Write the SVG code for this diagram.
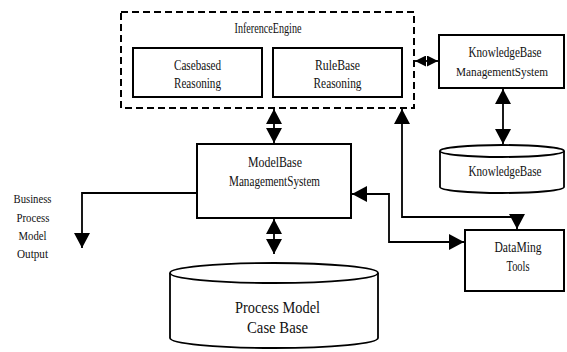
<svg xmlns="http://www.w3.org/2000/svg" width="567" height="352" viewBox="0 0 567 352" font-family="'Liberation Serif', 'Times New Roman', serif">
  <defs>
    <style>
      .box { fill: #fff; stroke: #000; stroke-width: 2; }
      .dash { fill: none; stroke: #000; stroke-width: 2; stroke-dasharray: 7 4; }
      .cyl { fill: #fff; stroke: #000; stroke-width: 1.8; }
      .ln { fill: none; stroke: #000; stroke-width: 1.8; }
      text { font-family: 'Liberation Serif', 'Times New Roman', serif; fill: #111; text-anchor: middle; }
      .t { font-size: 14px; }
      .tn { font-size: 12px; }
      .tl { font-size: 17px; }
      .ts { font-size: 13px; }
    </style>
    <marker id="head" viewBox="0 0 15 16" refX="15" refY="8" markerWidth="15" markerHeight="16" markerUnits="userSpaceOnUse" orient="auto-start-reverse">
      <path d="M0,0 L15,8 L0,16 z" fill="#000"/>
    </marker>
    <marker id="head-sm" viewBox="0 0 11 11" refX="11" refY="5.5" markerWidth="11" markerHeight="11" markerUnits="userSpaceOnUse" orient="auto-start-reverse">
      <path d="M0,0 L11,5.5 L0,11 z" fill="#000"/>
    </marker>
  </defs>

  <!-- connectors -->
  <g id="connectors">
    <line class="ln" x1="274" y1="109" x2="274" y2="143" marker-start="url(#head)" marker-end="url(#head)"/>
    <line class="ln" x1="274" y1="219" x2="274" y2="254" marker-start="url(#head)" marker-end="url(#head)"/>
    <line class="ln" x1="415" y1="61" x2="438" y2="61" marker-start="url(#head-sm)" marker-end="url(#head-sm)"/>
    <line class="ln" x1="503" y1="89" x2="503" y2="144" marker-start="url(#head)" marker-end="url(#head)"/>
    <polyline class="ln" points="197,193 82,193 82,248" marker-end="url(#head)"/>
    <polyline class="ln" points="352,194 389,194 389,242 464,242" marker-start="url(#head)" marker-end="url(#head)"/>
    <polyline class="ln" points="402,109 402,217 517,217 517,229" marker-start="url(#head)" marker-end="url(#head)"/>
  </g>

  <!-- inference engine -->
  <g id="inference-engine">
    <rect class="dash" x="121" y="12" width="293" height="96"/>
    <text class="t" x="268" y="33" textLength="67" lengthAdjust="spacingAndGlyphs">InferenceEngine</text>
  </g>
  <g id="casebased-reasoning">
    <rect class="box" x="133" y="48" width="129" height="49"/>
    <text class="t" x="197.5" y="70" textLength="47" lengthAdjust="spacingAndGlyphs">Casebased</text>
    <text class="t" x="197.5" y="88" textLength="47" lengthAdjust="spacingAndGlyphs">Reasoning</text>
  </g>
  <g id="rulebase-reasoning">
    <rect class="box" x="273" y="48" width="129" height="49"/>
    <text class="t" x="337.5" y="70" textLength="45" lengthAdjust="spacingAndGlyphs">RuleBase</text>
    <text class="t" x="337.5" y="88" textLength="48" lengthAdjust="spacingAndGlyphs">Reasoning</text>
  </g>

  <!-- knowledge base management system -->
  <g id="kb-management">
    <rect class="box" x="439" y="35" width="125" height="53"/>
    <text class="t" x="505" y="57" textLength="73" lengthAdjust="spacingAndGlyphs">KnowledgeBase</text>
    <text class="tn" x="502" y="76" textLength="92" lengthAdjust="spacingAndGlyphs">ManagementSystem</text>
  </g>

  <!-- knowledge base store -->
  <g id="knowledge-base">
    <path class="cyl" d="M440,151 L440,187 A62,6 0 0 0 564,187 L564,151"/>
    <ellipse class="cyl" cx="502" cy="151" rx="62" ry="6"/>
    <text class="t" x="505" y="176" textLength="73" lengthAdjust="spacingAndGlyphs">KnowledgeBase</text>
  </g>

  <!-- model base management system -->
  <g id="mb-management">
    <rect class="box" x="197" y="144" width="154" height="74"/>
    <text class="t" x="275" y="167" textLength="54" lengthAdjust="spacingAndGlyphs">ModelBase</text>
    <text class="t" x="274.5" y="186" textLength="91" lengthAdjust="spacingAndGlyphs">ManagementSystem</text>
  </g>

  <!-- data mining tools -->
  <g id="data-mining">
    <rect class="box" x="465" y="230" width="99" height="61"/>
    <text class="t" x="518" y="252" textLength="47" lengthAdjust="spacingAndGlyphs">DataMing</text>
    <text class="t" x="518" y="271" textLength="23" lengthAdjust="spacingAndGlyphs">Tools</text>
  </g>

  <!-- process model case base -->
  <g id="process-model-case-base">
    <path class="cyl" d="M170,273 L170,338 A104,10 0 0 0 378,338 L378,273"/>
    <ellipse class="cyl" cx="274" cy="273" rx="104" ry="10"/>
    <text class="tl" x="277.5" y="313" textLength="85" lengthAdjust="spacingAndGlyphs">Process Model</text>
    <text class="tl" x="277.5" y="333" textLength="61" lengthAdjust="spacingAndGlyphs">Case Base</text>
  </g>

  <!-- output label -->
  <g id="business-output">
    <text class="ts" x="32.5" y="203" textLength="38" lengthAdjust="spacingAndGlyphs">Business</text>
    <text class="ts" x="33" y="222" textLength="33" lengthAdjust="spacingAndGlyphs">Process</text>
    <text class="ts" x="32.5" y="240" textLength="28" lengthAdjust="spacingAndGlyphs">Model</text>
    <text class="ts" x="32.5" y="258" textLength="31" lengthAdjust="spacingAndGlyphs">Output</text>
  </g>
</svg>
